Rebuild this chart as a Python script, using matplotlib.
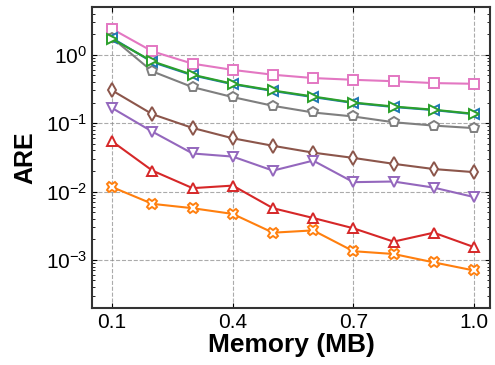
import numpy as np
import matplotlib.pyplot as plt
from matplotlib.ticker import LogLocator

plt.rcParams['font.family'] = ['Liberation Sans', 'DejaVu Sans']
plt.rcParams['mathtext.fontset'] = 'custom'
plt.rcParams['mathtext.rm'] = 'Liberation Sans'
plt.rcParams['mathtext.default'] = 'regular'

# Datos
memory = [0.1, 0.2, 0.3, 0.4, 0.5, 0.6, 0.7, 0.8, 0.9, 1.0]

are_pink = [2.38, 1.12, 0.74, 0.60, 0.51, 0.456, 0.43, 0.41, 0.385, 0.376]
are_blue = [1.75, 0.78, 0.50, 0.37, 0.295, 0.24, 0.197, 0.172, 0.155, 0.135]
are_green = [1.70, 0.80, 0.51, 0.376, 0.30, 0.245, 0.20, 0.175, 0.157, 0.137]
are_gray = [1.76, 0.57, 0.336, 0.24, 0.179, 0.143, 0.125, 0.103, 0.092, 0.0845]
are_brown = [0.30, 0.135, 0.085, 0.060, 0.0466, 0.037, 0.031, 0.0254, 0.0213, 0.0192]
are_purple = [0.166, 0.075, 0.036, 0.0324, 0.0202, 0.0283, 0.0137, 0.014, 0.0114, 0.0083]
are_red = [0.054, 0.0202, 0.0112, 0.0122, 0.0057, 0.0041, 0.0029, 0.00185, 0.0025, 0.00154]
are_orange = [0.0116, 0.0066, 0.0057, 0.0047, 0.0025, 0.0027, 0.00134, 0.00122, 0.00092, 0.00070]

series = [
    (are_pink, 'tab:pink', 's'),
    (are_gray, 'tab:gray', 'p'),
    (are_blue, 'tab:blue', '<'),
    (are_green, 'tab:green', '>'),
    (are_brown, 'tab:brown', 'd'),
    (are_purple, 'tab:purple', 'v'),
    (are_red, 'tab:red', '^'),
    (are_orange, 'tab:orange', 'X'),
]

fig = plt.figure(figsize=(4.95, 3.65), dpi=100)
ax = fig.add_axes([0.186, 0.157, 0.804, 0.824])

for vals, col, mk in series:
    ax.plot(memory, vals, color=col, marker=mk, markersize=7.5,
            markerfacecolor='white', markeredgewidth=1.4, linewidth=1.5)

ax.set_yscale('log')
ax.set_ylim(2e-4, 5)
ax.set_xlim(0.05, 1.04)
ax.set_xticks([0.1, 0.4, 0.7, 1.0])
ax.set_yticks([1e-3, 1e-2, 1e-1, 1e0])
ax.yaxis.set_minor_locator(LogLocator(base=10, subs=np.arange(2, 10)))
ax.grid(True, which='major', linestyle='--', color='#888888', alpha=0.7, linewidth=0.8)

ax.tick_params(axis='both', which='both', direction='in', top=True, right=True, labelsize=15)
ax.tick_params(axis='y', which='minor', length=2.5)
for s in ax.spines.values():
    s.set_linewidth(1.5)
    s.set_color('#333333')

ax.set_xlabel('Memory (MB)', fontsize=19, fontweight='bold', labelpad=1)
ax.set_ylabel('ARE', fontsize=18, fontweight='bold', labelpad=6)

fig.savefig('out.png', dpi=100)
